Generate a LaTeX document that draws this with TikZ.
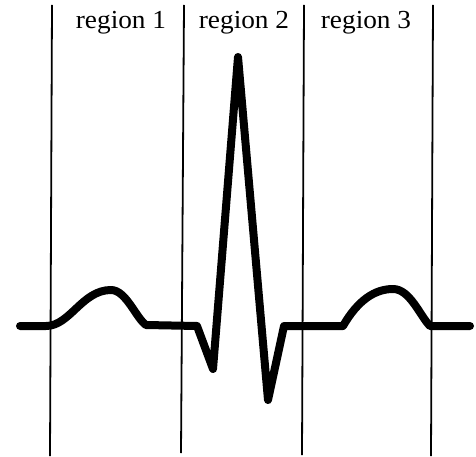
\documentclass[tikz,border=0pt]{standalone}
\usepackage{fontspec}
\setmainfont{Liberation Serif}
\begin{document}
\begin{tikzpicture}[x=1pt,y=-1pt,
  divider/.style={line width=1.8pt},
  trace/.style={line width=8pt,line cap=round,line join=round},
  lbl/.style={font=\fontsize{26}{28}\selectfont,anchor=base,xscale=1.05,inner sep=0pt}]
\useasboundingbox (0,0) rectangle (476,457);
% dividers
\coordinate (t1) at (52,5);  \coordinate (b1) at (50,456);
\coordinate (t2) at (184,5); \coordinate (b2) at (181,453);
\coordinate (t3) at (304,5); \coordinate (b3) at (302,455);
\coordinate (t4) at (433,5); \coordinate (b4) at (431,456);
\draw[divider] (t1) -- (b1);
\draw[divider] (t2) -- (b2);
\draw[divider] (t3) -- (b3);
\draw[divider] (t4) -- (b4);
% labels
\node[lbl] (r1) at (121,29) {region 1};
\node[lbl] (r2) at (244,29) {region 2};
\node[lbl] (r3) at (366,29) {region 3};
% ECG trace
\draw[trace] (20,326) -- (46,326)
  .. controls (70,326) and (82,290) .. (111,290)
  .. controls (126,290) and (136,318) .. (146,325)
  -- (197,326) -- (213,369) -- (238,57) -- (268,400) -- (284,326)
  -- (343,326)
  .. controls (358,300) and (375,289) .. (393,289)
  .. controls (410,289) and (420,316) .. (430,326)
  -- (470,326);
\end{tikzpicture}
\end{document}
